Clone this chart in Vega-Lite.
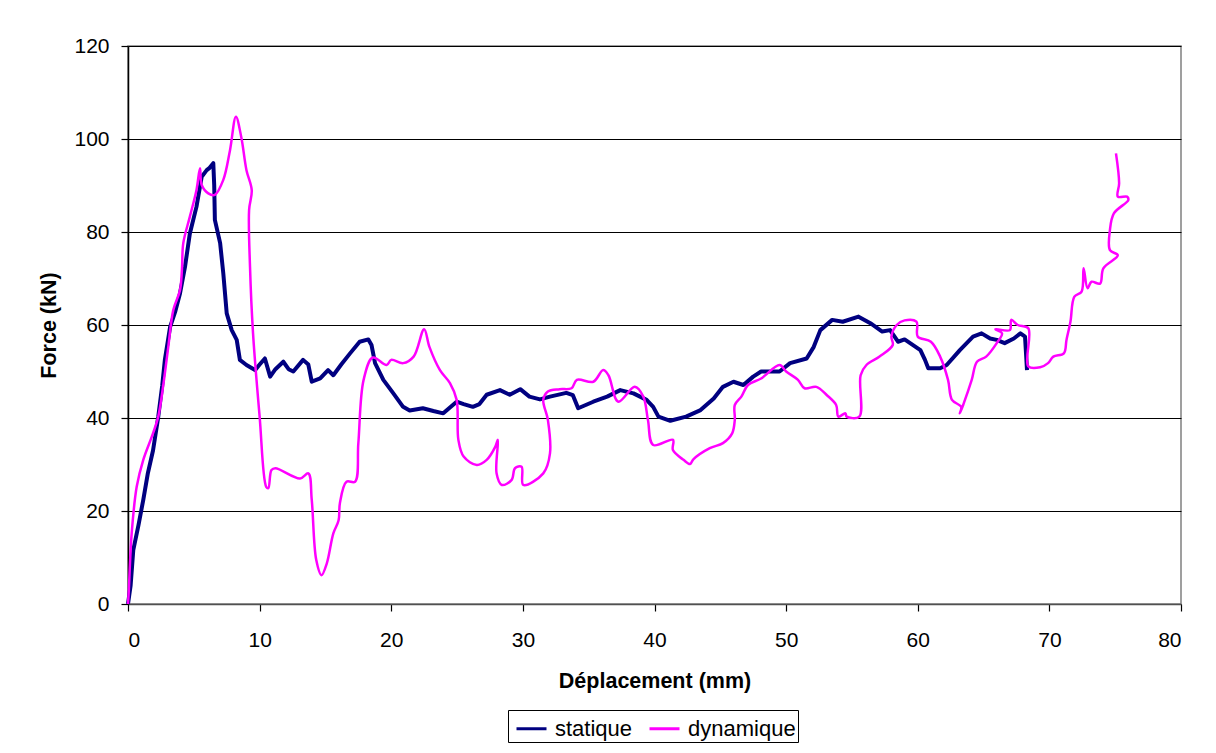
{
  "$schema": "https://vega.github.io/schema/vega-lite/v6.json",
  "width": 1053,
  "height": 558,
  "autosize": {"type": "none"},
  "padding": {"left": 128, "top": 46, "right": 35, "bottom": 149},
  "background": "white",
  "config": {
    "font": "Liberation Sans",
    "view": {"stroke": "#808080", "strokeWidth": 1.5},
    "axis": {
      "labelFont": "Liberation Sans",
      "titleFont": "Liberation Sans",
      "labelFontSize": 21,
      "titleFontSize": 21.5,
      "titleFontWeight": "bold",
      "labelColor": "#000",
      "titleColor": "#000",
      "domainColor": "#000",
      "domainWidth": 1.5,
      "tickColor": "#000",
      "tickSize": 7,
      "tickWidth": 1.2,
      "gridColor": "#000",
      "gridWidth": 1.2
    }
  },
  "datasets": {
    "statique": [
      {"i":0,"x":0,"y":0},{"i":1,"x":0.2,"y":4},{"i":2,"x":0.4,"y":11.6},{"i":3,"x":0.8,"y":17},{"i":4,"x":1.16,"y":22.4},
      {"i":5,"x":1.5,"y":28},{"i":6,"x":1.9,"y":33},{"i":7,"x":2.3,"y":40.3},{"i":8,"x":2.6,"y":47},{"i":9,"x":2.8,"y":52.5},
      {"i":10,"x":3.2,"y":59.6},{"i":11,"x":3.6,"y":63},{"i":12,"x":3.95,"y":66.8},{"i":13,"x":4.33,"y":72.5},{"i":14,"x":4.7,"y":79.7},
      {"i":15,"x":5.2,"y":85.4},{"i":16,"x":5.6,"y":91.9},{"i":17,"x":5.98,"y":93.3},{"i":18,"x":6.2,"y":93.8},{"i":19,"x":6.48,"y":94.8},
      {"i":20,"x":6.55,"y":90},{"i":21,"x":6.6,"y":82.6},{"i":22,"x":7.0,"y":77.6},{"i":23,"x":7.24,"y":71.1},{"i":24,"x":7.5,"y":62.5},
      {"i":25,"x":7.88,"y":58.9},{"i":26,"x":8.26,"y":56.8},{"i":27,"x":8.5,"y":52.5},{"i":28,"x":9.0,"y":51.4},{"i":29,"x":9.65,"y":50.3},
      {"i":30,"x":10.0,"y":51.5},{"i":31,"x":10.4,"y":52.8},{"i":32,"x":10.8,"y":48.9},{"i":33,"x":11.2,"y":50.5},{"i":34,"x":11.8,"y":52.1},
      {"i":35,"x":12.2,"y":50.5},{"i":36,"x":12.56,"y":50},{"i":37,"x":13.3,"y":52.5},{"i":38,"x":13.7,"y":51.5},{"i":39,"x":13.96,"y":47.8},
      {"i":40,"x":14.6,"y":48.5},{"i":41,"x":15.2,"y":50.3},{"i":42,"x":15.6,"y":49.2},{"i":43,"x":16.2,"y":51.5},{"i":44,"x":16.87,"y":53.9},
      {"i":45,"x":17.6,"y":56.4},{"i":46,"x":18.26,"y":56.9},{"i":47,"x":18.5,"y":55.7},{"i":48,"x":18.77,"y":51.8},{"i":49,"x":19.4,"y":48.2},
      {"i":50,"x":20.16,"y":45.3},{"i":51,"x":20.9,"y":42.4},{"i":52,"x":21.4,"y":41.6},{"i":53,"x":22.4,"y":42.1},{"i":54,"x":23.2,"y":41.5},
      {"i":55,"x":23.95,"y":41},{"i":56,"x":24.97,"y":43.5},{"i":57,"x":25.5,"y":43},{"i":58,"x":26.2,"y":42.4},{"i":59,"x":26.7,"y":43},
      {"i":60,"x":27.25,"y":45},{"i":61,"x":28.26,"y":46},{"i":62,"x":29,"y":45},{"i":63,"x":29.8,"y":46.2},{"i":64,"x":30.5,"y":44.6},
      {"i":65,"x":31.3,"y":44},{"i":66,"x":32.06,"y":44.6},{"i":67,"x":33.3,"y":45.4},{"i":68,"x":33.8,"y":44.9},{"i":69,"x":34.2,"y":42.1},
      {"i":70,"x":35.35,"y":43.5},{"i":71,"x":36.4,"y":44.6},{"i":72,"x":37.4,"y":46},{"i":73,"x":38.4,"y":45.3},{"i":74,"x":39.4,"y":43.9},
      {"i":75,"x":39.9,"y":42.4},{"i":76,"x":40.3,"y":40.3},{"i":77,"x":41.2,"y":39.4},{"i":78,"x":42.4,"y":40.3},{"i":79,"x":43.5,"y":41.7},
      {"i":80,"x":44.5,"y":44.2},{"i":81,"x":45.2,"y":46.7},{"i":82,"x":46,"y":47.8},{"i":83,"x":46.75,"y":47.1},{"i":84,"x":47.5,"y":48.9},
      {"i":85,"x":48.1,"y":50},{"i":86,"x":49.5,"y":50},{"i":87,"x":50.3,"y":51.8},{"i":88,"x":51.56,"y":52.8},{"i":89,"x":52.1,"y":55.3},
      {"i":90,"x":52.6,"y":58.9},{"i":91,"x":53.5,"y":61.1},{"i":92,"x":54.3,"y":60.7},{"i":93,"x":55.5,"y":61.8},{"i":94,"x":56.4,"y":60.4},
      {"i":95,"x":57.3,"y":58.6},{"i":96,"x":57.9,"y":58.9},{"i":97,"x":58.5,"y":56.4},{"i":98,"x":59.0,"y":56.9},{"i":99,"x":60.2,"y":54.6},
      {"i":100,"x":60.55,"y":52.5},{"i":101,"x":60.8,"y":50.7},{"i":102,"x":61.7,"y":50.7},{"i":103,"x":62.2,"y":51.4},{"i":104,"x":63.2,"y":54.6},
      {"i":105,"x":64.2,"y":57.5},{"i":106,"x":64.85,"y":58.2},{"i":107,"x":65.5,"y":57.1},{"i":108,"x":66,"y":56.8},{"i":109,"x":66.6,"y":56.1},
      {"i":110,"x":67.3,"y":57.1},{"i":111,"x":67.8,"y":58.2},{"i":112,"x":68.15,"y":57.5},{"i":113,"x":68.3,"y":50.3}
    ],
    "dynamique": [
      {"i":0,"x":0,"y":0},{"i":1,"x":0.05,"y":2.3},{"i":2,"x":0.28,"y":15.2},{"i":3,"x":0.66,"y":25.2},{"i":4,"x":1.16,"y":31},
      {"i":5,"x":1.9,"y":36.7},{"i":6,"x":2.3,"y":40.3},{"i":7,"x":2.7,"y":47.5},{"i":8,"x":3.06,"y":55.3},{"i":9,"x":3.44,"y":63.2},
      {"i":10,"x":3.95,"y":67.5},{"i":11,"x":4.1,"y":72},{"i":12,"x":4.2,"y":77.6},{"i":13,"x":4.7,"y":83.3},{"i":14,"x":5.2,"y":89},
      {"i":15,"x":5.47,"y":93.7},{"i":16,"x":5.6,"y":90.1},{"i":17,"x":6.1,"y":88.3},{"i":18,"x":6.6,"y":88},{"i":19,"x":7.24,"y":91.2},
      {"i":20,"x":7.75,"y":97.6},{"i":21,"x":8.2,"y":104.8},{"i":22,"x":8.6,"y":100.5},{"i":23,"x":9.0,"y":93.3},{"i":24,"x":9.4,"y":89},
      {"i":25,"x":9.2,"y":84.7},{"i":26,"x":9.27,"y":72.5},{"i":27,"x":9.5,"y":58.2},{"i":28,"x":10.0,"y":40.3},{"i":29,"x":10.5,"y":25.2},
      {"i":30,"x":10.66,"y":24.9},{"i":31,"x":10.9,"y":28.8},{"i":32,"x":11.2,"y":29.2},{"i":33,"x":13.07,"y":27},{"i":34,"x":13.7,"y":28.1},
      {"i":35,"x":13.96,"y":22.4},{"i":36,"x":14.3,"y":9.5},{"i":37,"x":14.7,"y":6.2},{"i":38,"x":15.1,"y":8.7},{"i":39,"x":15.6,"y":15.2},
      {"i":40,"x":16,"y":18},{"i":41,"x":16.1,"y":21.7},{"i":42,"x":16.6,"y":26.3},{"i":43,"x":17.25,"y":26.3},{"i":44,"x":17.5,"y":34.6},
      {"i":45,"x":17.9,"y":48.2},{"i":46,"x":18.6,"y":53},{"i":47,"x":19.65,"y":51.4},{"i":48,"x":20.0,"y":52.5},{"i":49,"x":20.9,"y":51.8},
      {"i":50,"x":21.7,"y":53.2},{"i":51,"x":22.5,"y":59.1},{"i":52,"x":22.9,"y":55.3},{"i":53,"x":23.7,"y":50.3},{"i":54,"x":24.46,"y":47.5},
      {"i":55,"x":24.97,"y":43.9},{"i":56,"x":25.1,"y":35.3},{"i":57,"x":25.5,"y":31.7},{"i":58,"x":26.5,"y":29.9},{"i":59,"x":27.25,"y":31},
      {"i":60,"x":27.9,"y":33.8},{"i":61,"x":28.1,"y":35.3},{"i":62,"x":28,"y":28.1},{"i":63,"x":28.4,"y":25.6},{"i":64,"x":29.15,"y":26.7},
      {"i":65,"x":29.4,"y":29.2},{"i":66,"x":29.9,"y":29.5},{"i":67,"x":30.03,"y":25.6},{"i":68,"x":31.55,"y":28.1},{"i":69,"x":32.06,"y":32.4},
      {"i":70,"x":31.9,"y":39.6},{"i":71,"x":31.55,"y":43.9},{"i":72,"x":31.9,"y":45.7},{"i":73,"x":32.8,"y":46.2},{"i":74,"x":33.7,"y":46.4},
      {"i":75,"x":34.1,"y":48.2},{"i":76,"x":35.35,"y":47.8},{"i":77,"x":36.1,"y":50.3},{"i":78,"x":36.5,"y":49.2},{"i":79,"x":37.25,"y":43.5},
      {"i":80,"x":38.5,"y":46.7},{"i":81,"x":39.15,"y":44.6},{"i":82,"x":39.5,"y":39.6},{"i":83,"x":39.9,"y":34.2},{"i":84,"x":41.4,"y":35.3},
      {"i":85,"x":41.4,"y":33.1},{"i":86,"x":42.2,"y":31},{"i":87,"x":42.7,"y":30.1},{"i":88,"x":42.95,"y":31.1},{"i":89,"x":44.2,"y":33.5},
      {"i":90,"x":45.2,"y":34.6},{"i":91,"x":45.9,"y":36.7},{"i":92,"x":46.1,"y":39.6},{"i":93,"x":46.1,"y":42.8},{"i":94,"x":46.6,"y":44.6},
      {"i":95,"x":47.1,"y":47.1},{"i":96,"x":48.1,"y":48.5},{"i":97,"x":49.5,"y":51.4},{"i":98,"x":50.0,"y":50},{"i":99,"x":50.9,"y":48.2},
      {"i":100,"x":51.4,"y":46.4},{"i":101,"x":52.3,"y":46.7},{"i":102,"x":53.1,"y":44.9},{"i":103,"x":53.8,"y":42.8},{"i":104,"x":53.97,"y":40.3},
      {"i":105,"x":54.5,"y":41},{"i":106,"x":54.6,"y":40.3},{"i":107,"x":55.56,"y":40.3},{"i":108,"x":55.66,"y":49.2},{"i":109,"x":56.1,"y":51.4},
      {"i":110,"x":57.1,"y":53.2},{"i":111,"x":58.1,"y":55.7},{"i":112,"x":58.0,"y":57.5},{"i":113,"x":58.4,"y":60},{"i":114,"x":59.0,"y":61},
      {"i":115,"x":59.9,"y":60.7},{"i":116,"x":60.0,"y":57.5},{"i":117,"x":61.0,"y":56.4},{"i":118,"x":61.7,"y":53.2},{"i":119,"x":62.3,"y":48.2},
      {"i":120,"x":62.6,"y":43.9},{"i":121,"x":63.3,"y":42.4},{"i":122,"x":63.2,"y":41},{"i":123,"x":63.5,"y":43.2},{"i":124,"x":64.1,"y":48.2},
      {"i":125,"x":64.5,"y":52.1},{"i":126,"x":65.2,"y":53.2},{"i":127,"x":66,"y":56.1},{"i":128,"x":66.4,"y":58.2},{"i":129,"x":65.9,"y":59.1},
      {"i":130,"x":67.0,"y":58.9},{"i":131,"x":67.1,"y":61.1},{"i":132,"x":67.6,"y":60},{"i":133,"x":68.4,"y":59.3},{"i":134,"x":68.4,"y":51.1},
      {"i":135,"x":69.3,"y":50.9},{"i":136,"x":69.9,"y":51.8},{"i":137,"x":70.3,"y":53.2},{"i":138,"x":71.1,"y":53.9},{"i":139,"x":71.3,"y":56.8},
      {"i":140,"x":71.6,"y":60.7},{"i":141,"x":71.9,"y":66.1},{"i":142,"x":72.45,"y":67.2},{"i":143,"x":72.6,"y":72.2},{"i":144,"x":72.9,"y":67.9},
      {"i":145,"x":73.2,"y":69.3},{"i":146,"x":73.85,"y":68.9},{"i":147,"x":74.1,"y":72.2},{"i":148,"x":75.2,"y":75},{"i":149,"x":74.6,"y":76.1},
      {"i":150,"x":74.6,"y":80.4},{"i":151,"x":74.9,"y":84},{"i":152,"x":76.0,"y":86.9},{"i":153,"x":75.9,"y":87.6},{"i":154,"x":75.2,"y":87.6},
      {"i":155,"x":75.3,"y":90.5},{"i":156,"x":75.06,"y":96.9}
    ]
  },
  "encoding": {
    "x": {
      "field": "x", "type": "quantitative",
      "scale": {"domain": [0, 80], "nice": false, "zero": false},
      "axis": {"values": [0,10,20,30,40,50,60,70,80], "grid": false, "title": "Déplacement (mm)", "labelPadding": 18, "titlePadding": 20, "domainColor": "#505050"}
    },
    "y": {
      "field": "y", "type": "quantitative",
      "scale": {"domain": [0, 120], "nice": false},
      "axis": {"values": [0,20,40,60,80,100,120], "grid": true, "title": "Force (kN)", "labelPadding": 12, "titlePadding": 13}
    },
    "order": {"field": "i", "type": "quantitative"}
  },
  "layer": [
    {
      "data": {"name": "statique"},
      "mark": {"type": "line", "strokeWidth": 4, "strokeJoin": "round"},
      "encoding": {
        "color": {
          "datum": "statique", "type": "nominal",
          "scale": {"domain": ["statique", "dynamique"], "range": ["#000080", "#FF00FF"]},
          "legend": {
            "title": null,
            "orient": "none",
            "legendX": 380,
            "legendY": 664,
            "direction": "horizontal",
            "symbolType": "stroke",
            "symbolSize": 900,
            "symbolStrokeWidth": 3,
            "symbolOffset": 5,
            "labelFont": "Liberation Sans",
            "labelFontSize": 22,
            "labelColor": "#000",
            "labelOffset": 7,
            "columnPadding": 10,
            "padding": 2,
            "strokeColor": "#000",
            "fillColor": "white"
          }
        }
      }
    },
    {
      "data": {"name": "dynamique"},
      "mark": {"type": "line", "strokeWidth": 2.5, "strokeJoin": "round", "interpolate": "catmull-rom"},
      "encoding": {
        "color": {"datum": "dynamique", "type": "nominal"}
      }
    }
  ]
}
